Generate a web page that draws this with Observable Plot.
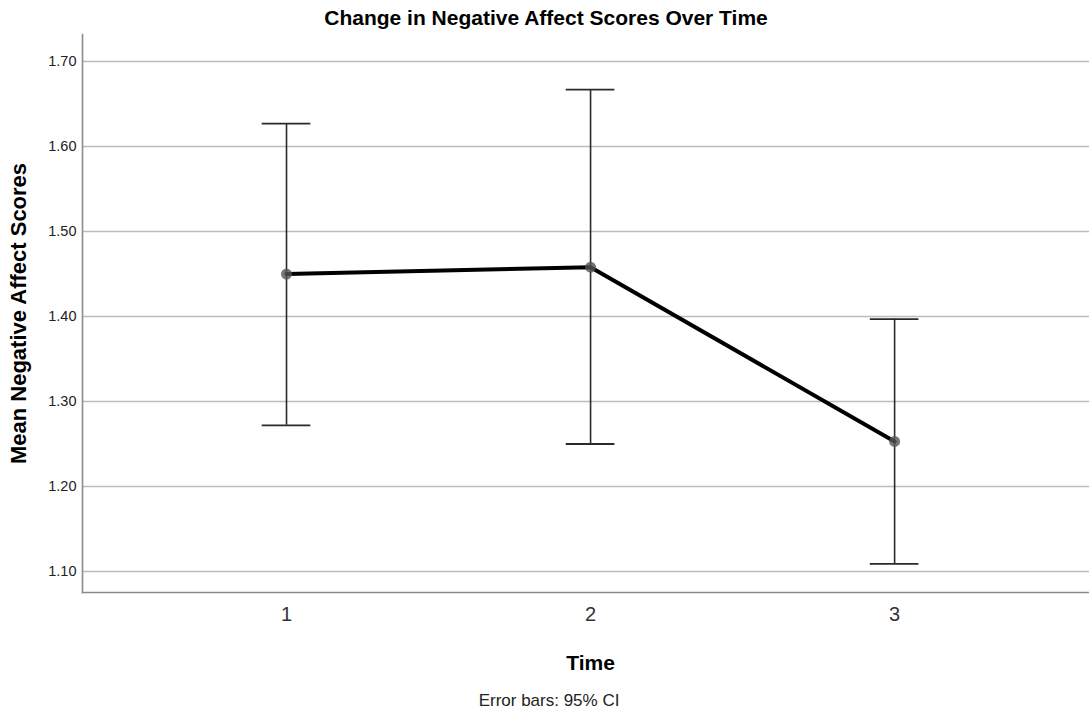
<!DOCTYPE html>
<html>
<head>
<meta charset="utf-8">
<script src="https://cdn.jsdelivr.net/npm/d3@7"></script>
<script src="https://cdn.jsdelivr.net/npm/@observablehq/plot@0.6"></script>
<style>
  html, body { margin: 0; padding: 0; background: #fff; }
  #chart svg { display: block; }
</style>
</head>
<body>
<div id="chart"></div>
<script>
// Data
const times = [1, 2, 3];
const means = [1.450, 1.458, 1.253];
const ciLower = [1.272, 1.250, 1.109];
const ciUpper = [1.627, 1.667, 1.397];
const yTicks = [1.10, 1.20, 1.30, 1.40, 1.50, 1.60, 1.70];
const xTicks = [1, 2, 3];

const titleText = "Change in Negative Affect Scores Over Time";
const yLabel = "Mean Negative Affect Scores";
const xLabel = "Time";
const captionText = "Error bars: 95% CI";

const data = times.map((t, i) => ({time: t, mean: means[i], lo: ciLower[i], hi: ciUpper[i]}));
const capHalf = 0.08;

const chart = Plot.plot({
  width: 1089,
  height: 724,
  marginLeft: 82,
  marginRight: 0,
  marginTop: 34,
  marginBottom: 132,
  style: {fontFamily: "'Liberation Sans', Arial, sans-serif", background: "#fff", color: "#000"},
  x: {type: "linear", domain: [0.329, 3.641]},
  y: {domain: [1.0753, 1.7318]},
  marks: [
    Plot.gridY(yTicks, {stroke: "#bcbcbc", strokeOpacity: 1, strokeWidth: 1.6}),
    Plot.frame({anchor: "left", stroke: "#8a8a8a", strokeWidth: 1.6}),
    Plot.frame({anchor: "bottom", stroke: "#8a8a8a", strokeWidth: 1.6}),
    Plot.ruleX(data, {x: "time", y1: "lo", y2: "hi", stroke: "#2a2a2a", strokeWidth: 1.6}),
    Plot.ruleY(data, {y: "hi", x1: d => d.time - capHalf, x2: d => d.time + capHalf, stroke: "#2a2a2a", strokeWidth: 1.8}),
    Plot.ruleY(data, {y: "lo", x1: d => d.time - capHalf, x2: d => d.time + capHalf, stroke: "#2a2a2a", strokeWidth: 1.8}),
    Plot.line(data, {x: "time", y: "mean", stroke: "#000", strokeWidth: 4}),
    Plot.dot(data, {x: "time", y: "mean", r: 5.5, fill: "#555", fillOpacity: 0.8, stroke: "none"}),
    Plot.axisY(yTicks, {tickSize: 0, tickPadding: 6, tickFormat: d3.format(".2f"), fontSize: 14.5, fill: "#222", label: null}),
    Plot.axisX(xTicks, {tickSize: 0, tickPadding: 14, tickFormat: d => String(d), fontSize: 20, fill: "#333", label: null}),
    Plot.text([titleText], {frameAnchor: "top", dx: -40, dy: -16, fontSize: 21, fontWeight: "bold", fill: "#000", lineAnchor: "middle"}),
    Plot.text([yLabel], {frameAnchor: "left", textAnchor: "middle", rotate: -90, dx: -64, fontSize: 22, fontWeight: "bold", fill: "#000", lineAnchor: "middle"}),
    Plot.text([xLabel], {x: [2], frameAnchor: "bottom", dy: 71, fontSize: 21, fontWeight: "bold", fill: "#000", lineAnchor: "middle"}),
    Plot.text([captionText], {frameAnchor: "bottom", dx: -37, dy: 108, fontSize: 17, fill: "#222", lineAnchor: "middle"})
  ]
});
document.getElementById("chart").append(chart);
</script>
</body>
</html>
